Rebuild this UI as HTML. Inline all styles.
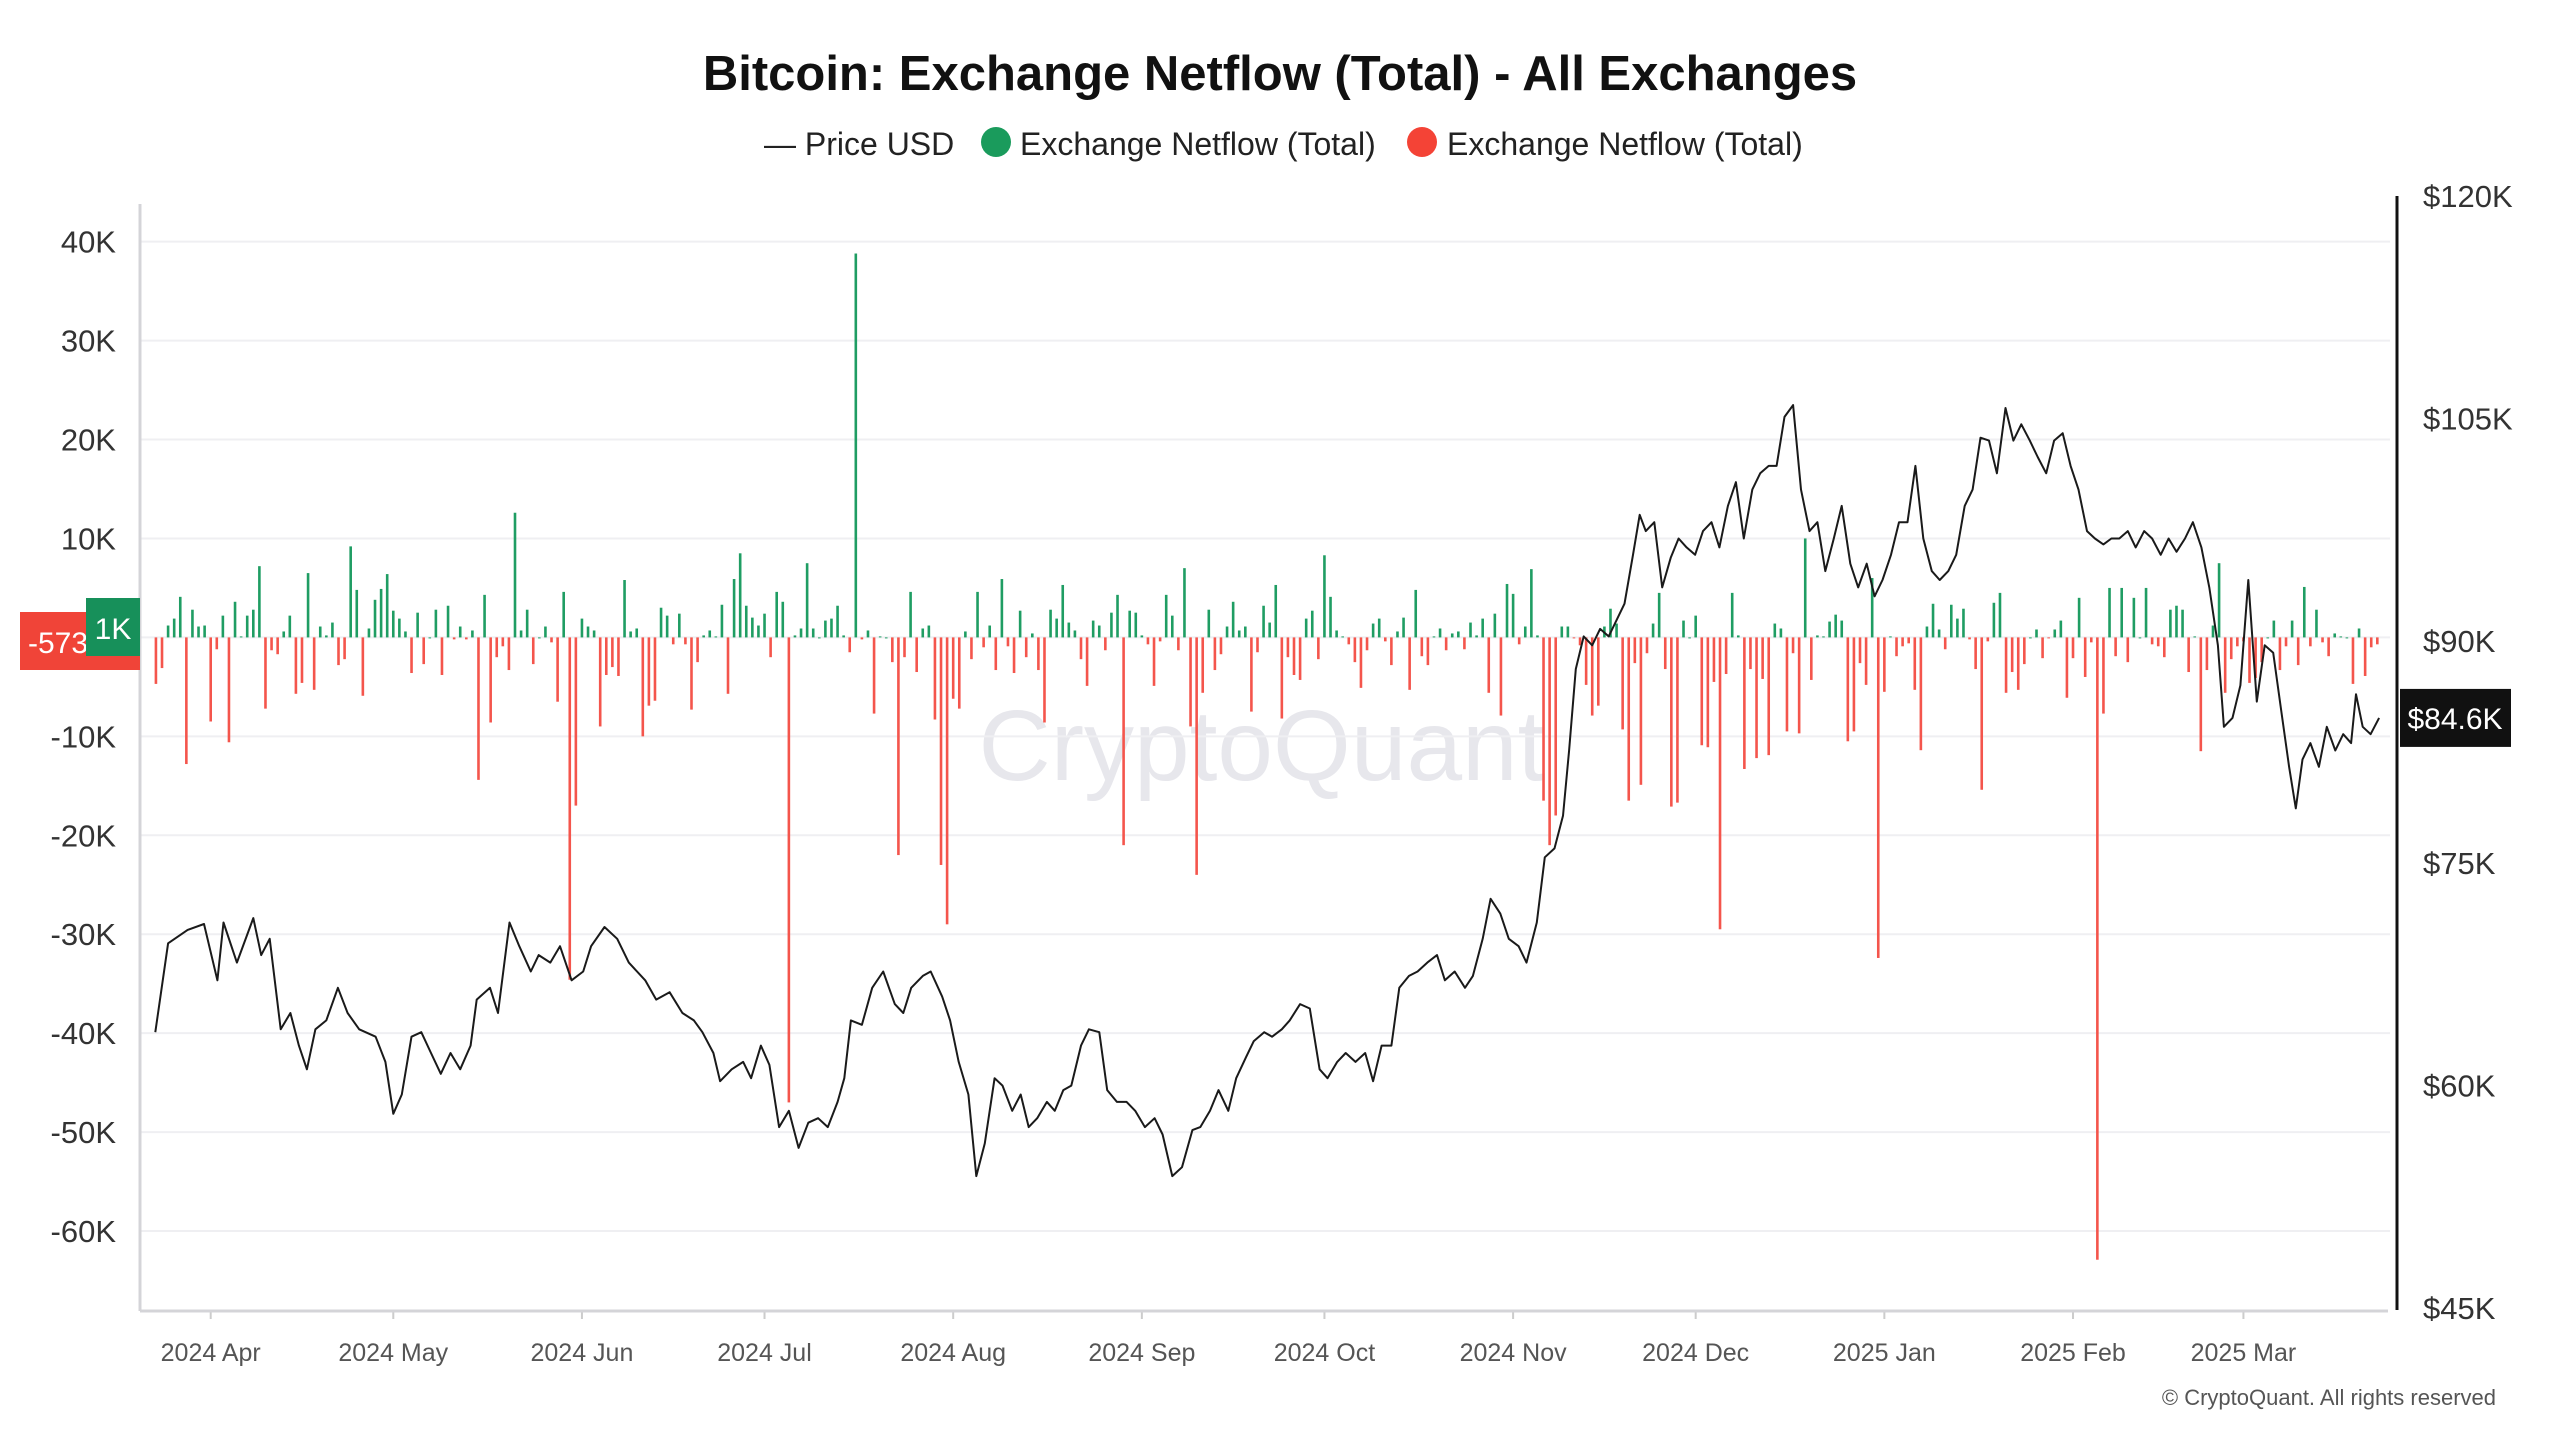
<!DOCTYPE html>
<html><head><meta charset="utf-8">
<style>
html,body{margin:0;padding:0;background:#fff;}
body{width:2560px;height:1440px;overflow:hidden;font-family:"Liberation Sans",sans-serif;}
svg text{font-family:"Liberation Sans",sans-serif;}
</style></head>
<body>
<svg id="chart" width="2560" height="1440" viewBox="0 0 2560 1440" xmlns="http://www.w3.org/2000/svg">
<rect x="0" y="0" width="2560" height="1440" fill="#fff"/>
<text x="1280" y="90" text-anchor="middle" font-size="49" font-weight="bold" fill="#111">Bitcoin: Exchange Netflow (Total) - All Exchanges</text>
<g font-size="32" fill="#222">
  <g><text x="764" y="155">— Price USD</text></g>
  <g><circle cx="996" cy="142" r="15" fill="#1a9b5c"/><text x="1020" y="155">Exchange Netflow (Total)</text></g>
  <g><circle cx="1422" cy="142" r="15" fill="#f44336"/><text x="1447" y="155">Exchange Netflow (Total)</text></g>
</g>
<text x="1262" y="780" text-anchor="middle" font-size="100" fill="#e7e7ec">CryptoQuant</text>
<g id="grid"></g>
<g id="bars"></g>
<g id="price"></g>
<g id="axes"></g>
<text x="2496" y="1405" text-anchor="end" font-size="22" fill="#555">© CryptoQuant. All rights reserved</text>
</svg>
<script>
const monthLabels = ["2024 Apr","2024 May","2024 Jun","2024 Jul","2024 Aug","2024 Sep","2024 Oct","2024 Nov","2024 Dec","2025 Jan","2025 Feb","2025 Mar"];
const monthDays = [0,30,61,91,122,153,183,214,244,275,306,334];
const leftTicks = [40,30,20,10,0,-10,-20,-30,-40,-50,-60];
const leftTickLabels = ["40K","30K","20K","10K","","-10K","-20K","-30K","-40K","-50K","-60K"];
const rightTicks = [120,105,90,75,60,45];
const rightTickLabels = ["$120K","$105K","$90K","$75K","$60K","$45K"];
const netflowStartDay = -9;
const netflowValues = [
-4.7,-3.1,1.2,1.9,4.1,-12.8,2.8,1.1,1.2,-8.5,
-1.2,2.2,-10.6,3.6,0.1,2.2,2.8,7.2,-7.2,-1.3,
-1.7,0.6,2.2,-5.7,-4.6,6.5,-5.3,1.1,0.2,1.5,
-2.8,-2.2,9.2,4.8,-5.9,0.9,3.8,4.9,6.4,2.7,
1.9,0.6,-3.6,2.5,-2.7,0,2.8,-3.8,3.2,-0.2,
1.1,-0.2,0.7,-14.4,4.3,-8.6,-2.0,-0.9,-3.3,12.6,
0.7,2.8,-2.7,0,1.1,-0.5,-6.5,4.6,-34.6,-17,
1.9,1.1,0.7,-9.0,-3.8,-3.0,-3.9,5.8,0.6,0.9,
-10,-6.9,-6.4,3.0,2.2,-0.7,2.4,-0.7,-7.3,-2.5,
0.2,0.7,0.1,
3.3,-5.7,5.9,8.5,3.2,2.0,1.2,2.4,-2.0,4.6,
3.6,-47,0.2,0.9,7.5,0.9,0,1.7,1.9,3.2,
0.2,-1.5,38.8,-0.2,0.7,-7.7,0.1,0,-2.5,-22,
-2.0,4.6,-3.5,0.9,1.2,-8.3,-23,-29,-6.2,-7.2,
0.6,-2.2,4.6,-1.0,1.2,-3.3,5.9,-0.9,-3.6,2.7,
-2.0,0.4,-3.3,-8.6,2.8,1.9,5.3,1.5,0.7,-2.2,
-4.9,1.7,1.2,-1.3,2.5,4.3,-21,2.7,2.5,0.2,
-0.7,-4.9,-0.4,4.3,2.2,-1.3,7.0,-9.0,-24,-5.6,
2.8,-3.3,-1.7,1.1,3.6,0.7,1.1,-7.5,-1.5,3.2,
1.5,5.3,
-8.2,-2.0,-3.8,-4.3,1.9,2.7,-2.2,8.3,4.1,0.7,
0.1,-0.7,-2.5,-5.1,-1.3,1.4,1.9,-0.4,-2.8,0.6,
2.0,-5.3,4.8,-1.9,-2.8,0.1,0.9,-1.3,0.4,0.6,
-1.2,1.5,0.2,1.9,-5.6,2.4,-7.9,5.4,4.4,-0.7,
1.1,6.9,0.2,-16.5,-21,-18,1.1,
1.1,-0.1,-0.8,-4.8,-7.9,-6.9,1.1,2.9,1.4,-9.3,
-16.5,-2.6,-14.9,-1.6,1.4,4.5,-3.2,-17.1,-16.7,1.7,
0,2.2,-10.9,-11.1,-4.5,-29.5,-3.7,4.5,0.2,-13.3,
-3.2,-12.2,-4.2,-11.9,1.4,0.9,-9.5,-1.6,-9.7,10,
-4.3,0.2,0.1,1.6,2.3,1.7,-10.5,-9.5,-2.6,-4.8,
6,-32.4,-5.5,0.1,-1.9,-0.9,-0.6,-5.3,-11.4,1.1,
3.4,0.8,-1.2,3.3,1.9,2.9,-0.2,-3.2,-15.4,-0.4,
3.5,4.5,-5.6,-3.5,-5.3,-2.7,0,0.8,-2.1,-0.1,
0.8,1.7,-6.1,-2.1,4,-4.0,-0.5,-62.9,-7.7,5,
-1.9,5,-2.5,4,0,5,-0.7,
-0.9,-2.0,2.8,3.2,2.8,-3.5,0.1,-11.5,-3.3,1.2,
7.5,-5.6,-2.2,-0.9,-0.4,-4.6,-4.1,-2.5,0,1.7,
-3.3,-0.9,1.7,-2.8,5.1,-0.9,2.8,-0.5,-1.9,0.4,
0.1,0,-4.7,0.9,-3.9,-1.0,-0.7
];
const priceDays = [
-9.1,-7,-3.8,-1.1,1.1,2.1,4.3,7,8.3,9.7,
11.5,13.1,14.5,15.8,17.2,19,20.9,22.5,24.4,27.1,
28.7,30,31.4,33,34.6,36.2,37.8,39.4,41,42.7,
43.7,45.9,47.2,49.1,50.7,52.6,53.9,55.8,57.4,59.3,
61.2,62.5,64.7,66.8,68.7,71.4,73.2,75.4,77.5,79.4,
80.8,82.6,83.7,85.6,87.5,88.8,90.4,91.8,93.4,95,
96.6,98.2,99.8,101.4,103,104.1,105.2,107,108.7,110.5,
112.4,113.8,115.1,117,118.3,120.2,121.5,122.9,124.5,125.8,
127.2,128.8,130.1,131.7,133.1,134.4,135.8,137.4,138.7,140.1,
141.4,143,144.3,146,147.3,148.9,150.5,151.9,153.5,155.1,
156.4,158,159.6,161.3,162.6,164.2,165.6,167.2,168.5,170.1,
171.4,173.1,174.4,176,177.3,179,180.6,182.2,183.5,185.1,
186.5,188.1,189.7,191,192.4,194,195.3,196.9,198.3,199.9,
201.5,202.8,204.4,206.1,207.4,209,210.3,211.9,213.3,214.9,
216.2,217.9,219.2,220.8,222.2,223.2,224.3,225.6,227,228.3,
229.7,231,232.3,233.7,234.8,235.8,237.2,238.5,239.9,241.2,
242.5,243.9,245.2,246.6,247.9,249.3,250.6,251.9,253.3,254.6,
256,257.3,258.6,260,261.3,262.7,264,265.3,266.7,268,
269.4,270.7,272.1,273.4,274.7,276.1,277.4,278.8,280.1,281.4,
282.8,284.1,285.5,286.8,288.2,289.5,290.8,292.2,293.5,294.9,
296.2,297.5,298.9,300.2,301.6,302.9,304.3,305.6,306.9,308.3,
309.6,311,312.3,313.6,315,316.3,317.7,319,320.4,321.7,
323,324.4,325.7,327.1,328.4,329.8,330.8,332.2,333.5,334.8,
336.2,337.5,338.9,340.2,341.5,342.6,343.7,345,346.4,347.7,
349.1,350.4,351.7,352.5,353.6,354.9,356.3
];
const priceValues = [
63.6,69.6,70.5,70.9,67.1,71.0,68.3,71.3,68.8,69.9,
63.8,64.9,62.7,61.1,63.8,64.4,66.6,64.9,63.8,63.3,
61.6,58.1,59.4,63.3,63.6,62.2,60.8,62.2,61.1,62.7,
65.8,66.6,64.9,71.0,69.4,67.7,68.8,68.3,69.4,67.1,
67.7,69.4,70.7,69.9,68.3,67.1,65.8,66.3,64.9,64.4,
63.6,62.2,60.3,61.1,61.6,60.5,62.7,61.4,57.2,58.3,
55.8,57.5,57.8,57.2,58.9,60.5,64.4,64.1,66.6,67.7,
65.5,64.9,66.6,67.4,67.7,66.0,64.4,61.6,59.4,53.9,
56.1,60.5,60.0,58.3,59.4,57.2,57.8,58.9,58.3,59.7,
60.0,62.7,63.8,63.6,59.7,58.9,58.9,58.3,57.2,57.8,
56.7,53.9,54.5,57.0,57.2,58.3,59.7,58.3,60.5,61.9,
63.0,63.6,63.3,63.8,64.4,65.5,65.2,61.1,60.5,61.6,
62.2,61.6,62.2,60.3,62.7,62.7,66.6,67.4,67.7,68.3,
68.8,67.1,67.7,66.6,67.4,69.9,72.6,71.6,69.9,69.4,
68.3,71.0,75.4,76.0,78.2,82.6,88.1,90.3,89.7,90.8,
90.3,91.4,92.5,95.8,98.5,97.4,98.0,93.6,95.6,96.9,
96.3,95.8,97.4,98.0,96.3,99.1,100.7,96.9,100.2,101.3,
101.8,101.8,105.1,105.9,100.2,97.4,98.0,94.7,96.9,99.1,
95.2,93.6,95.2,93.0,94.1,95.8,98.0,98.0,101.8,96.9,
94.7,94.1,94.7,95.8,99.1,100.2,103.7,103.5,101.3,105.7,
103.5,104.6,103.5,102.4,101.3,103.5,104.0,101.8,100.2,97.4,
96.9,96.5,96.9,96.9,97.4,96.3,97.4,96.9,95.8,96.9,
96.0,96.9,98.0,96.3,93.6,89.7,84.2,84.8,87.0,94.1,
85.9,89.7,89.2,85.3,81.5,78.7,82.0,83.1,81.5,84.2,
82.6,83.7,83.1,86.4,84.2,83.7,84.8
];

const NS = "http://www.w3.org/2000/svg";
const X0 = 140, XR = 2397, YB = 1311;
function xScale(day){ return 210.7 + day * 6.086; }
function yFlow(v){ return 637.4 - v * 9.894; }
function yPrice(p){ return 196 + (120 - p) * 14.827; }
function mk(tag, attrs, parent){ const e = document.createElementNS(NS, tag); for (const k in attrs) e.setAttribute(k, attrs[k]); parent.appendChild(e); return e; }

const grid = document.getElementById('grid');
const axes = document.getElementById('axes');
leftTicks.forEach((t, i) => {
  const y = yFlow(t);
  const gl = mk('line', {x1: X0, x2: 2390, y1: y, y2: y, stroke: '#efeff2', 'stroke-width': 2}, grid);
  
  
  const tl = mk('text', {x: 116, y: y + 11, 'text-anchor': 'end', 'font-size': 31, fill: '#333'}, axes);
  tl.textContent = leftTickLabels[i];
  
  
});
rightTicks.forEach((t, i) => {
  const y = yPrice(t);
  const tl = mk('text', {x: 2423, y: y + 11, 'font-size': 31, fill: '#333'}, axes);
  tl.textContent = rightTickLabels[i];
  
  
});
monthDays.forEach((d, i) => {
  const x = xScale(d);
  const tk = mk('line', {x1: x, x2: x, y1: YB, y2: YB + 8, stroke: '#ccc', 'stroke-width': 2}, axes);
  
  
  const tl = mk('text', {x: x, y: 1361, 'text-anchor': 'middle', 'font-size': 25, fill: '#555'}, axes);
  tl.textContent = monthLabels[i];
  
  
});
const la = mk('line', {x1: X0, x2: X0, y1: 204, y2: YB, stroke: '#d4d4d8', 'stroke-width': 3}, axes);


const ba = mk('line', {x1: X0, x2: 2388, y1: YB, y2: YB, stroke: '#d4d4d8', 'stroke-width': 3}, axes);


const ra = mk('line', {x1: XR, x2: XR, y1: 196, y2: 1310, stroke: '#111', 'stroke-width': 3}, axes);



const bars = document.getElementById('bars');
netflowValues.forEach((v, i) => {
  const x = xScale(netflowStartDay + i);
  const y0 = yFlow(0), y1 = yFlow(v);
  const r = mk('rect', {x: x - 1.3, y: Math.min(y0, y1), width: 2.6, height: Math.max(1, Math.abs(y1 - y0)), fill: v >= 0 ? '#1f9d63' : '#f4554c'}, bars);
  
  
});

const priceG = document.getElementById('price');
const pts = priceDays.map((d, i) => xScale(d).toFixed(1) + ',' + yPrice(priceValues[i]).toFixed(1)).join(' ');
const pl = mk('polyline', {points: pts, fill: 'none', stroke: '#1a1a1a', 'stroke-width': 2, 'stroke-linejoin': 'round'}, priceG);



const redBox = mk('rect', {x: 20, y: 612, width: 120, height: 58, fill: '#f04438'}, axes);


const redTxt = mk('text', {x: 28, y: 653, 'font-size': 30, fill: '#fff'}, axes);
redTxt.textContent = '-573';


const grBox = mk('rect', {x: 86, y: 598, width: 54, height: 58, fill: '#17905a'}, axes);


const grTxt = mk('text', {x: 113, y: 639, 'text-anchor': 'middle', 'font-size': 30, fill: '#fff'}, axes);
grTxt.textContent = '1K';


const pY = yPrice(priceValues[priceValues.length - 1]);
const pBox = mk('rect', {x: 2400, y: pY - 29, width: 111, height: 58, fill: '#111'}, axes);


const pTxt = mk('text', {x: 2455, y: pY + 11, 'text-anchor': 'middle', 'font-size': 30, fill: '#fff'}, axes);
pTxt.textContent = '$84.6K';


</script>
</body></html>
